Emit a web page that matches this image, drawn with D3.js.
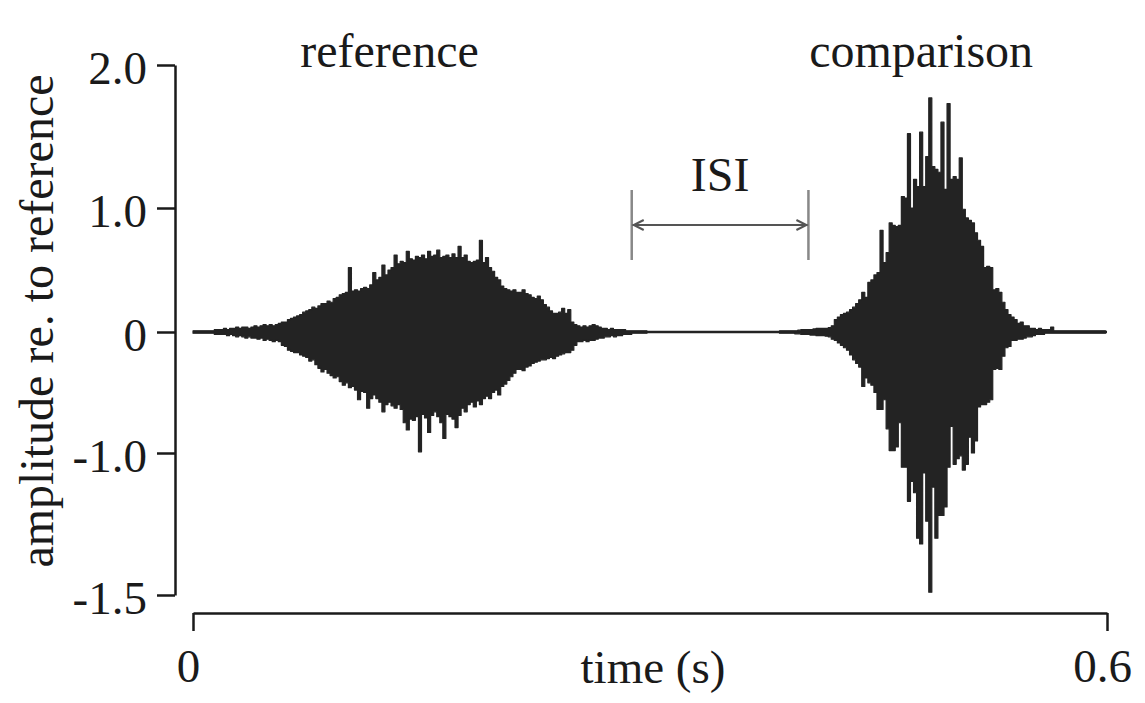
<!DOCTYPE html>
<html>
  <head>
    <meta charset="utf-8">
    <title>reference / comparison</title>
    <script src="https://d3js.org/d3.v7.min.js"></script>
    <style>
      body { margin: 0; background: #fff; }
      text { font-family: "Liberation Serif", "Times New Roman", serif; fill: #1a1a1a; }
    </style>
  </head>

  <body>
    <script>
      // waveform peaks, sampled every 2 ms (upper / lower extremes)
      var sampleStep = 0.002;
      var refStart = 0;
      var cmpStart = 0.385;

      var refUpper = [
        0.01, 0.01, 0.01, 0.01, 0.01, 0.01, 0.01, 0.02, 0.02, 0.02,
        0.03, 0.02, 0.03, 0.03, 0.04, 0.03, 0.04, 0.04, 0.03, 0.04,
        0.05, 0.04, 0.05, 0.06, 0.05, 0.06, 0.05, 0.06, 0.07, 0.08,
        0.08, 0.10, 0.11, 0.12, 0.13, 0.14, 0.16, 0.17, 0.18, 0.20,
        0.19, 0.21, 0.23, 0.23, 0.25, 0.24, 0.27, 0.28, 0.30, 0.31,
        0.32, 0.52, 0.33, 0.34, 0.33, 0.35, 0.36, 0.35, 0.38, 0.48,
        0.42, 0.44, 0.54, 0.46, 0.50, 0.52, 0.62, 0.55, 0.57, 0.56,
        0.65, 0.59, 0.58, 0.61, 0.60, 0.62, 0.59, 0.65, 0.61, 0.62,
        0.66, 0.60, 0.61, 0.62, 0.60, 0.63, 0.60, 0.69, 0.60, 0.62,
        0.57, 0.56, 0.57, 0.58, 0.74, 0.56, 0.60, 0.52, 0.49, 0.44,
        0.42, 0.37, 0.35, 0.34, 0.33, 0.34, 0.32, 0.32, 0.34, 0.31,
        0.30, 0.28, 0.27, 0.29, 0.26, 0.22, 0.20, 0.17, 0.15, 0.15,
        0.16, 0.19, 0.15, 0.18, 0.08, 0.06, 0.05, 0.04, 0.05, 0.04,
        0.05, 0.06, 0.05, 0.04, 0.03, 0.03, 0.02, 0.03, 0.02, 0.02,
        0.02, 0.02, 0.01, 0.01, 0.01, 0.01, 0.01, 0.01, 0.01, 0.01
      ];
      var refLower = [
        -0.01, -0.01, -0.01, -0.01, -0.01, -0.01, -0.01, -0.02, -0.02, -0.02,
        -0.02, -0.03, -0.02, -0.03, -0.04, -0.03, -0.04, -0.05, -0.04, -0.05,
        -0.05, -0.06, -0.05, -0.07, -0.06, -0.07, -0.08, -0.07, -0.08, -0.11,
        -0.12, -0.15, -0.16, -0.17, -0.17, -0.19, -0.20, -0.21, -0.24, -0.23,
        -0.27, -0.30, -0.33, -0.31, -0.34, -0.36, -0.38, -0.37, -0.41, -0.44,
        -0.42, -0.46, -0.45, -0.48, -0.56, -0.49, -0.50, -0.63, -0.55, -0.52,
        -0.55, -0.58, -0.66, -0.60, -0.58, -0.61, -0.63, -0.60, -0.64, -0.75,
        -0.81, -0.72, -0.73, -0.70, -0.99, -0.68, -0.71, -0.83, -0.69, -0.66,
        -0.70, -0.75, -0.88, -0.68, -0.70, -0.72, -0.79, -0.69, -0.63, -0.66,
        -0.60, -0.58, -0.62, -0.57, -0.60, -0.55, -0.53, -0.55, -0.50, -0.48,
        -0.52, -0.45, -0.43, -0.40, -0.37, -0.34, -0.31, -0.31, -0.32, -0.29,
        -0.28, -0.26, -0.25, -0.24, -0.23, -0.23, -0.22, -0.21, -0.22, -0.20,
        -0.19, -0.18, -0.17, -0.17, -0.15, -0.11, -0.08, -0.08, -0.07, -0.08,
        -0.07, -0.07, -0.06, -0.05, -0.05, -0.04, -0.04, -0.03, -0.04, -0.03,
        -0.03, -0.02, -0.02, -0.02, -0.01, -0.01, -0.01, -0.01, -0.01, -0.01
      ];

      var cmpUpper = [
        0.01, 0.01, 0.01, 0.01, 0.01, 0.01, 0.015, 0.02, 0.02, 0.02,
        0.02, 0.025, 0.03, 0.03, 0.03, 0.03, 0.035, 0.05, 0.10, 0.12,
        0.14, 0.15, 0.16, 0.18, 0.20, 0.23, 0.26, 0.32, 0.28, 0.40,
        0.42, 0.46, 0.48, 0.82, 0.56, 0.64, 0.88, 0.86, 0.85, 0.86,
        1.08, 1.07, 1.52, 1.00, 1.20, 1.15, 1.53, 1.15, 1.36, 1.77,
        1.29, 1.27, 1.25, 1.60, 1.13, 1.73, 1.20, 1.22, 1.20, 1.35,
        0.99, 0.92, 0.90, 0.88, 0.80, 0.74, 0.69, 0.52, 0.53, 0.52,
        0.34, 0.35, 0.32, 0.24, 0.18, 0.14, 0.12, 0.10, 0.07, 0.08,
        0.05, 0.05, 0.03, 0.03, 0.02, 0.03, 0.02, 0.02, 0.02, 0.04,
        0.01, 0.01, 0.01, 0.01, 0.01, 0.01, 0.01, 0.01, 0.01, 0.01,
        0.01, 0.01, 0.01, 0.01, 0.01, 0.01, 0.01, 0.01
      ];
      var cmpLower = [
        -0.01, -0.01, -0.01, -0.01, -0.01, -0.015, -0.015, -0.02, -0.02, -0.02,
        -0.025, -0.025, -0.03, -0.03, -0.03, -0.035, -0.04, -0.06, -0.07, -0.09,
        -0.11, -0.13, -0.15, -0.19, -0.23, -0.26, -0.29, -0.45, -0.38, -0.42,
        -0.44, -0.50, -0.64, -0.64, -0.56, -0.80, -0.98, -0.98, -0.95, -0.75,
        -1.05, -1.05, -1.17, -1.10, -1.14, -1.30, -1.32, -1.07, -1.24, -1.49,
        -1.12, -1.30, -1.22, -1.22, -1.19, -1.05, -0.78, -1.04, -1.02, -1.01,
        -1.06, -1.04, -0.87, -1.00, -0.90, -0.62, -0.60, -0.60, -0.58, -0.56,
        -0.31, -0.30, -0.31, -0.20, -0.13, -0.12, -0.07, -0.07, -0.06, -0.06,
        -0.05, -0.04, -0.04, -0.03, -0.02, -0.02, -0.02, -0.01, -0.01, -0.01,
        -0.01, -0.01, -0.01, -0.01, -0.01, -0.01, -0.01, -0.01, -0.01, -0.01,
        -0.01, -0.01, -0.01, -0.01, -0.01, -0.01, -0.01, -0.01
      ];

      var yTickValues = [2, 1, 0, -1, -1.5];
      var yTickLabels = ["2.0", "1.0", "0", "-1.0", "-1.5"];
      var xTickValues = [0, 0.6];
      var xTickLabels = ["0", "0.6"];
      var burstLabels = [{t: 0.129, text: "reference"}, {t: 0.478, text: "comparison"}];
      var isiStart = 0.288, isiEnd = 0.404;

      var width = 1145, height = 703;
      var ink = "#232323";

      var svg = d3.select("body")
        .append("svg")
          .attr("width", width)
          .attr("height", height);

      var x = d3.scaleLinear().domain([0, 0.6]).range([193, 1107]);
      // the printed axis is not evenly spaced, so the scale is piecewise
      var y = d3.scaleLinear()
          .domain([-1.5, -1, 0, 1, 2])
          .range([595, 453, 332, 208, 65]);

      function peaks(upper, lower, start) {
        return upper.map((u, i) => ({t: start + i * sampleStep, hi: u, lo: lower[i]}));
      }

      var area = d3.area()
          .x(d => x(d.t))
          .y0(d => y(d.lo))
          .y1(d => y(d.hi))
          .curve(d3.curveStepAfter);

      // zero line under the bursts
      svg.append("line")
          .attr("x1", x(0))
          .attr("x2", x(0.6))
          .attr("y1", y(0))
          .attr("y2", y(0))
          .style("stroke", ink)
          .style("stroke-width", 2.5);

      [peaks(refUpper, refLower, refStart), peaks(cmpUpper, cmpLower, cmpStart)].forEach(function(burst) {
        svg.append("path")
            .datum(burst)
            .attr("d", area)
            .style("fill", ink)
            .style("stroke", ink)
            .style("stroke-width", 1.2)
            .style("stroke-linejoin", "round");
      });

      // axes
      var yAxis = d3.axisLeft(y)
          .tickValues(yTickValues)
          .tickFormat((d, i) => yTickLabels[i])
          .tickSize(18)
          .tickSizeOuter(0);
      var gy = svg.append("g")
          .attr("transform", "translate(175,0)")
          .call(yAxis);

      var xAxis = d3.axisBottom(x)
          .tickValues(xTickValues)
          .tickFormat((d, i) => xTickLabels[i])
          .tickSize(18)
          .tickSizeOuter(0);
      var gx = svg.append("g")
          .attr("transform", "translate(0,613)")
          .call(xAxis);

      [gx, gy].forEach(function(g) {
        g.select(".domain").style("stroke", "#1a1a1a").style("stroke-width", 2.5);
        g.selectAll(".tick line").style("stroke", "#1a1a1a").style("stroke-width", 2.5);
        g.selectAll("text")
            .attr("font-family", null)
            .attr("font-size", null)
            .style("font-size", "47px")
            .style("fill", "#1a1a1a");
      });
      gy.selectAll(".tick text")
          .attr("x", -28)
          .attr("dy", "18px");
      gx.selectAll(".tick text")
          .attr("x", -5)
          .attr("y", 0)
          .attr("dy", "69px");

      // axis titles
      svg.append("text")
          .attr("x", 653)
          .attr("y", 683)
          .attr("text-anchor", "middle")
          .style("font-size", "47px")
          .text("time (s)");

      svg.append("text")
          .attr("transform", "translate(53,321) rotate(-90)")
          .attr("text-anchor", "middle")
          .style("font-size", "48px")
          .text("amplitude re. to reference");

      svg.selectAll(".burst-label")
        .data(burstLabels)
        .enter()
        .append("text")
          .attr("class", "burst-label")
          .attr("x", d => x(d.t))
          .attr("y", 67)
          .attr("text-anchor", "middle")
          .style("font-size", "48px")
          .text(d => d.text);

      // ISI bracket
      var isi = svg.append("g");
      [isiStart, isiEnd].forEach(function(t) {
        isi.append("line")
            .attr("x1", x(t)).attr("x2", x(t))
            .attr("y1", 190).attr("y2", 260)
            .style("stroke", "#888")
            .style("stroke-width", 2.5);
      });
      var xa = x(isiStart), xb = x(isiEnd), ya = 225;
      isi.append("line")
          .attr("x1", xa + 1).attr("x2", xb - 1)
          .attr("y1", ya).attr("y2", ya)
          .style("stroke", "#555")
          .style("stroke-width", 2);
      isi.append("path")
          .attr("d", "M" + (xa + 12) + "," + (ya - 5) + "L" + (xa + 2) + "," + ya + "L" + (xa + 12) + "," + (ya + 5) +
                     "M" + (xb - 12) + "," + (ya - 5) + "L" + (xb - 2) + "," + ya + "L" + (xb - 12) + "," + (ya + 5))
          .style("fill", "none")
          .style("stroke", "#555")
          .style("stroke-width", 2);
      isi.append("text")
          .attr("x", (xa + xb) / 2)
          .attr("y", 191)
          .attr("text-anchor", "middle")
          .style("font-size", "48px")
          .text("ISI");
    </script>
  </body>
</html>
